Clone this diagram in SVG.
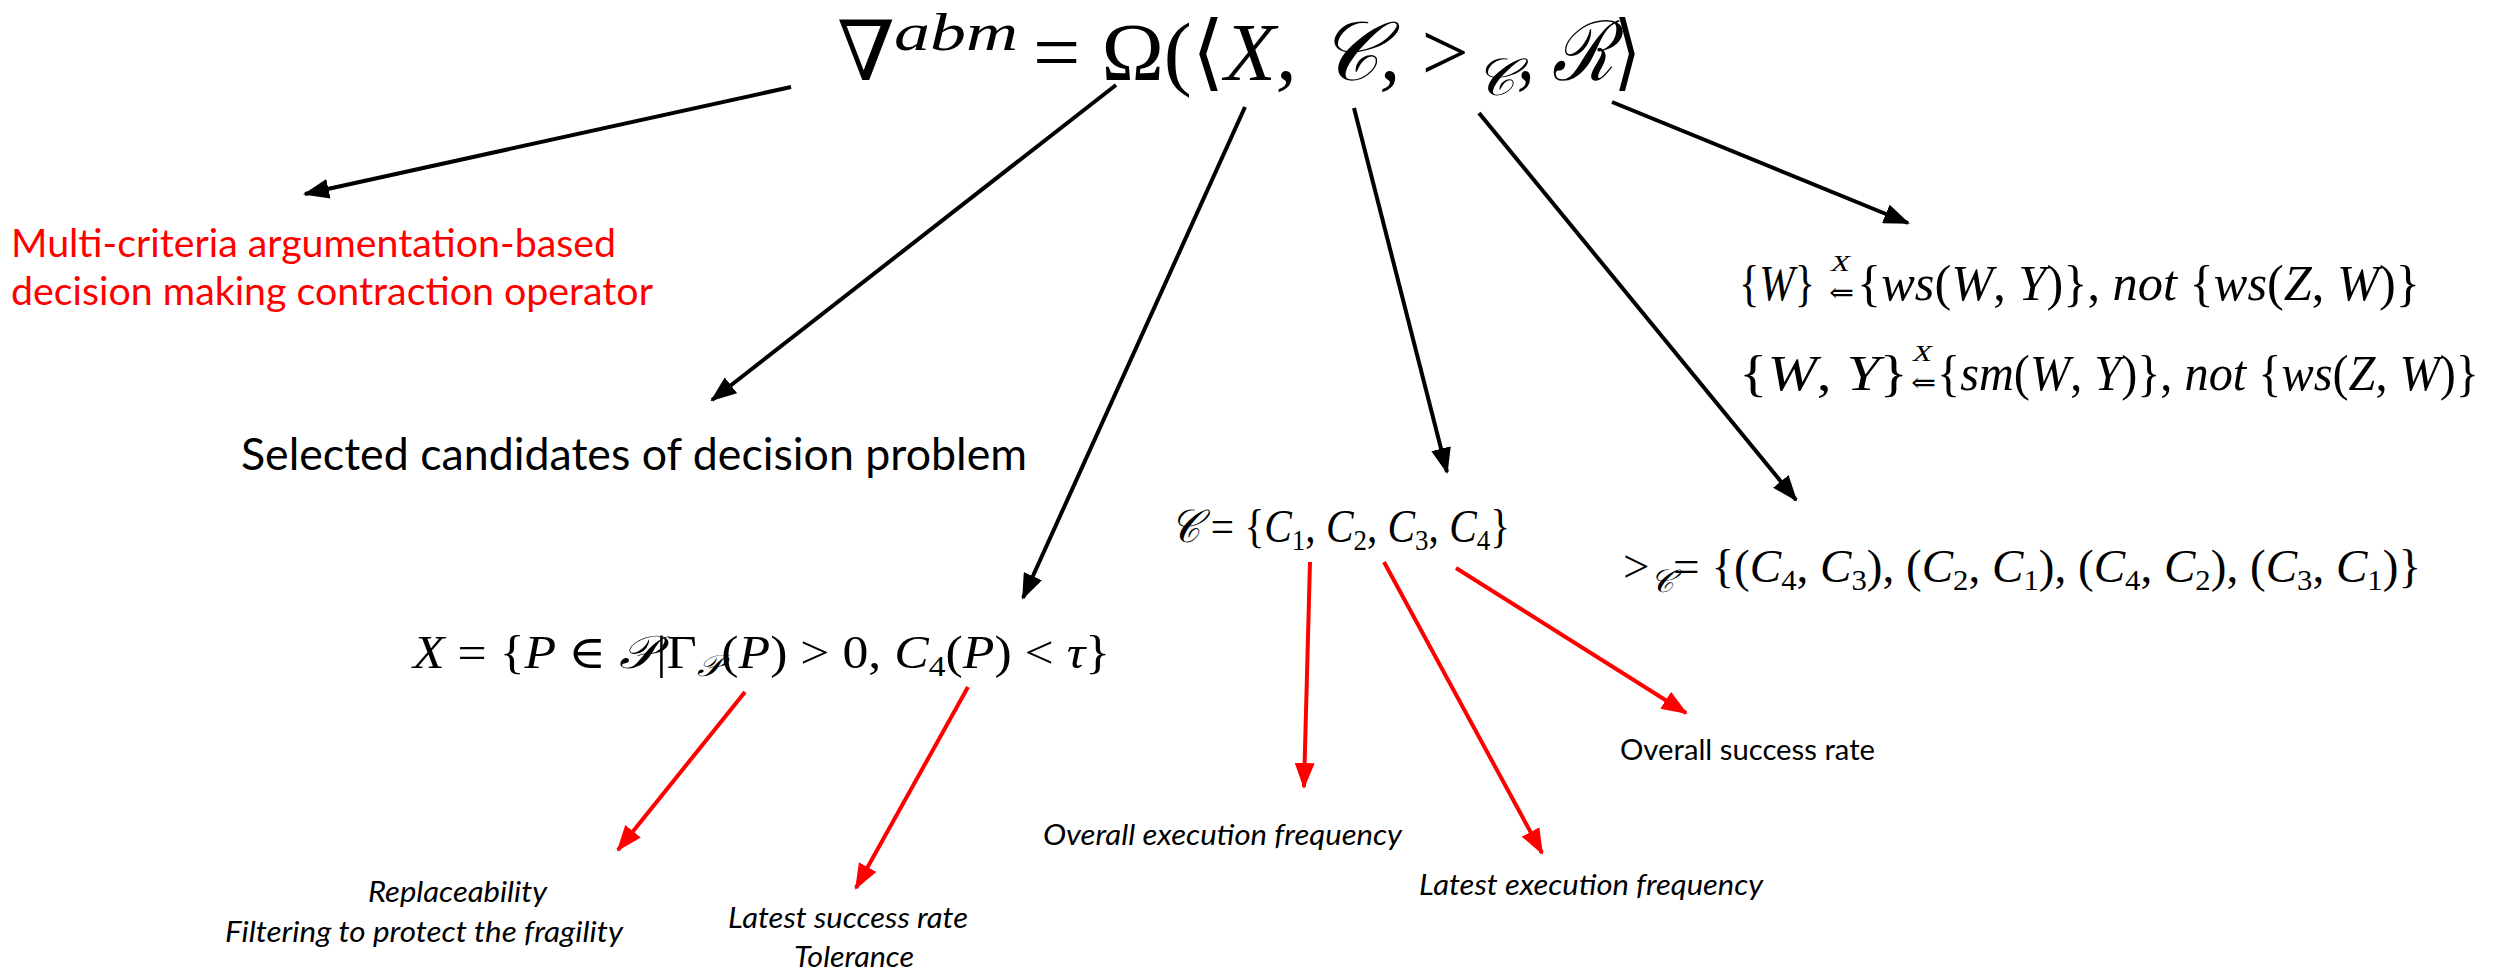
<svg xmlns="http://www.w3.org/2000/svg" width="2494" height="971" viewBox="0 0 2494 971">
<style>
.m{font-family:"Liberation Serif","DejaVu Serif",serif;font-style:italic;fill:#000}
.u{font-style:normal}
.s{font-family:Lato,"Open Sans","Liberation Sans",sans-serif}
.it{font-style:italic}
.red{fill:#ff0000}
.ln{stroke:#000;stroke-width:4;fill:none;marker-end:url(#ab)}
.lr{stroke:#ff0000;stroke-width:4;fill:none;marker-end:url(#ar)}
</style>
<defs>
<marker id="ab" markerWidth="26" markerHeight="20" refX="24" refY="10" orient="auto" markerUnits="userSpaceOnUse"><path d="M0,0 L26,10 L0,20 z" fill="#000"/></marker>
<marker id="ar" markerWidth="26" markerHeight="20" refX="24" refY="10" orient="auto" markerUnits="userSpaceOnUse"><path d="M0,0 L26,10 L0,20 z" fill="#ff0000"/></marker>
</defs>
<rect width="2494" height="971" fill="#fff"/>

<g id="title">
<text class="m u" x="837" y="80" font-size="83" textLength="58" lengthAdjust="spacingAndGlyphs">∇</text>
<text class="m" x="894" y="50" font-size="52" textLength="124" lengthAdjust="spacingAndGlyphs">abm</text>
<text class="m" x="1033" y="80" font-size="83" textLength="436" lengthAdjust="spacingAndGlyphs"><tspan class="u">= Ω(⟨</tspan>X, 𝒞, <tspan class="u">&gt;</tspan></text>
<text class="m" x="1475" y="95" font-size="52" textLength="40" lengthAdjust="spacingAndGlyphs">𝒞</text>
<text class="m" x="1517" y="80" font-size="83" textLength="124" lengthAdjust="spacingAndGlyphs">, ℛ<tspan class="u">⟩</tspan></text>
</g>

<g id="operator-label">
<text class="s red" x="11" y="257" font-size="38" textLength="605" lengthAdjust="spacingAndGlyphs">Multi-criteria argumentation-based</text>
<text class="s red" x="11" y="305" font-size="38" textLength="642" lengthAdjust="spacingAndGlyphs">decision making contraction operator</text>
</g>

<g id="candidates-label">
<text class="s" x="241" y="470" font-size="44" textLength="786" lengthAdjust="spacingAndGlyphs">Selected candidates of decision problem</text>
</g>

<g id="x-set">
<text class="m" x="413" y="668" font-size="46" textLength="697" lengthAdjust="spacingAndGlyphs">X <tspan class="u">= {</tspan>P <tspan class="u">∈</tspan> 𝒫<tspan class="u">|Γ</tspan><tspan font-size="30" dy="8">𝒫</tspan><tspan class="u" dy="-8">(</tspan>P<tspan class="u">) &gt; 0, </tspan>C<tspan class="u" font-size="30" dy="8">4</tspan><tspan class="u" dy="-8">(</tspan>P<tspan class="u">) &lt; </tspan>τ<tspan class="u">}</tspan></text>
</g>

<g id="criteria-set">
<text class="m" x="1170" y="542" font-size="46" textLength="340" lengthAdjust="spacingAndGlyphs">𝒞 <tspan class="u">= {</tspan>C<tspan class="u" font-size="30" dy="8">1</tspan><tspan class="u" dy="-8">, </tspan>C<tspan class="u" font-size="30" dy="8">2</tspan><tspan class="u" dy="-8">, </tspan>C<tspan class="u" font-size="30" dy="8">3</tspan><tspan class="u" dy="-8">, </tspan>C<tspan class="u" font-size="30" dy="8">4</tspan><tspan class="u" dy="-8">}</tspan></text>
</g>

<g id="preference-set">
<text class="m" x="1623" y="582" font-size="46" textLength="798" lengthAdjust="spacingAndGlyphs"><tspan class="u">&gt;</tspan><tspan font-size="32" dy="10">𝒞</tspan><tspan class="u" dy="-10">= {(</tspan>C<tspan class="u" font-size="30" dy="8">4</tspan><tspan class="u" dy="-8">, </tspan>C<tspan class="u" font-size="30" dy="8">3</tspan><tspan class="u" dy="-8">), (</tspan>C<tspan class="u" font-size="30" dy="8">2</tspan><tspan class="u" dy="-8">, </tspan>C<tspan class="u" font-size="30" dy="8">1</tspan><tspan class="u" dy="-8">), (</tspan>C<tspan class="u" font-size="30" dy="8">4</tspan><tspan class="u" dy="-8">, </tspan>C<tspan class="u" font-size="30" dy="8">2</tspan><tspan class="u" dy="-8">), (</tspan>C<tspan class="u" font-size="30" dy="8">3</tspan><tspan class="u" dy="-8">, </tspan>C<tspan class="u" font-size="30" dy="8">1</tspan><tspan class="u" dy="-8">)}</tspan></text>
</g>

<g id="rules">
<text class="m" x="1739" y="300" font-size="50" textLength="76" lengthAdjust="spacingAndGlyphs"><tspan class="u">{</tspan>W<tspan class="u">}</tspan></text>
<text class="m" x="1831" y="271" font-size="24" textLength="19" lengthAdjust="spacingAndGlyphs">X</text>
<text class="m u" x="1829" y="302" font-size="28" textLength="25" lengthAdjust="spacingAndGlyphs">⇐</text>
<text class="m" x="1857" y="300" font-size="50" textLength="563" lengthAdjust="spacingAndGlyphs"><tspan class="u">{</tspan>ws<tspan class="u">(</tspan>W<tspan class="u">, </tspan>Y<tspan class="u">)}, </tspan>not <tspan class="u">{</tspan>ws<tspan class="u">(</tspan>Z<tspan class="u">, </tspan>W<tspan class="u">)}</tspan></text>
<text class="m" x="1739" y="390" font-size="50" textLength="169" lengthAdjust="spacingAndGlyphs"><tspan class="u">{</tspan>W<tspan class="u">, </tspan>Y<tspan class="u">}</tspan></text>
<text class="m" x="1913" y="361" font-size="24" textLength="19" lengthAdjust="spacingAndGlyphs">X</text>
<text class="m u" x="1911" y="392" font-size="28" textLength="25" lengthAdjust="spacingAndGlyphs">⇐</text>
<text class="m" x="1937" y="390" font-size="50" textLength="542" lengthAdjust="spacingAndGlyphs"><tspan class="u">{</tspan>sm<tspan class="u">(</tspan>W<tspan class="u">, </tspan>Y<tspan class="u">)}, </tspan>not <tspan class="u">{</tspan>ws<tspan class="u">(</tspan>Z<tspan class="u">, </tspan>W<tspan class="u">)}</tspan></text>
</g>

<g id="notes">
<text class="s it" x="368" y="902" font-size="28" textLength="179" lengthAdjust="spacingAndGlyphs">Replaceability</text>
<text class="s it" x="225" y="942" font-size="28" textLength="398" lengthAdjust="spacingAndGlyphs">Filtering to protect the fragility</text>
<text class="s it" x="728" y="928" font-size="28" textLength="240" lengthAdjust="spacingAndGlyphs">Latest success rate</text>
<text class="s it" x="794" y="967" font-size="28" textLength="120" lengthAdjust="spacingAndGlyphs">Tolerance</text>
<text class="s it" x="1043" y="845" font-size="28" textLength="359" lengthAdjust="spacingAndGlyphs">Overall execution frequency</text>
<text class="s it" x="1419" y="895" font-size="28" textLength="344" lengthAdjust="spacingAndGlyphs">Latest execution frequency</text>
<text class="s" x="1620" y="760" font-size="28" textLength="255" lengthAdjust="spacingAndGlyphs">Overall success rate</text>
</g>

<g id="connectors">
<line class="ln" x1="791" y1="87" x2="305" y2="194"/>
<line class="ln" x1="1116" y1="85" x2="712" y2="400"/>
<line class="ln" x1="1245" y1="107" x2="1023" y2="598"/>
<line class="ln" x1="1354" y1="108" x2="1447" y2="472"/>
<line class="ln" x1="1479" y1="113" x2="1796" y2="500"/>
<line class="ln" x1="1612" y1="102" x2="1908" y2="223"/>
<line class="lr" x1="745" y1="692" x2="618" y2="850"/>
<line class="lr" x1="968" y1="687" x2="856" y2="888"/>
<line class="lr" x1="1310" y1="562" x2="1304" y2="787"/>
<line class="lr" x1="1384" y1="562" x2="1542" y2="853"/>
<line class="lr" x1="1456" y1="568" x2="1686" y2="713"/>
</g>
</svg>
